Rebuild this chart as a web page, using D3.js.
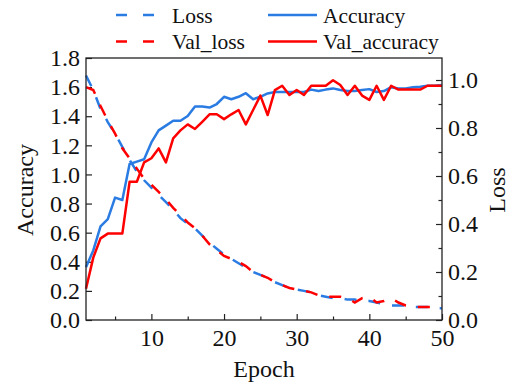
<!DOCTYPE html>
<html><head><meta charset="utf-8">
<script src="https://cdn.jsdelivr.net/npm/d3@7"></script>
<style>
body{margin:0;background:#fff;}
svg{display:block;font-family:"Liberation Serif","Times New Roman",serif;}
</style></head>
<body><svg id="c" width="512" height="386"></svg>
<script>
const epochs = d3.range(1, 51);
const loss = [1.68,1.58,1.45,1.36,1.28,1.19,1.10,1.02,0.96,0.91,0.86,0.81,0.76,0.70,0.66,0.63,0.58,0.53,0.49,0.45,0.42,0.39,0.36,0.33,0.31,0.29,0.26,0.24,0.22,0.21,0.20,0.19,0.17,0.16,0.15,0.15,0.14,0.14,0.13,0.13,0.12,0.11,0.10,0.10,0.10,0.09,0.09,0.09,0.08,0.08];
const valLoss = [1.60,1.58,1.47,1.37,1.28,1.18,1.11,1.04,0.97,0.93,0.88,0.83,0.77,0.72,0.67,0.63,0.58,0.52,0.48,0.44,0.42,0.40,0.37,0.33,0.31,0.29,0.26,0.24,0.22,0.21,0.20,0.19,0.17,0.16,0.16,0.16,0.15,0.12,0.15,0.16,0.12,0.13,0.15,0.12,0.10,0.09,0.09,0.09,0.09,0.10];
const accuracy = [0.22,0.29,0.39,0.42,0.51,0.50,0.65,0.66,0.67,0.74,0.79,0.81,0.83,0.83,0.85,0.89,0.89,0.885,0.90,0.93,0.92,0.93,0.945,0.92,0.93,0.944,0.95,0.95,0.95,0.95,0.95,0.96,0.954,0.96,0.965,0.958,0.954,0.954,0.958,0.962,0.95,0.954,0.97,0.965,0.965,0.97,0.972,0.976,0.976,0.979];
const valAccuracy = [0.13,0.26,0.34,0.36,0.36,0.36,0.576,0.576,0.657,0.674,0.715,0.657,0.757,0.79,0.815,0.796,0.826,0.857,0.857,0.837,0.857,0.875,0.815,0.875,0.935,0.854,0.958,0.976,0.9375,0.958,0.9375,0.976,0.976,0.976,0.999,0.979,0.9375,0.976,0.935,0.917,0.976,0.917,0.976,0.96,0.96,0.96,0.96,0.976,0.976,0.976];
const xTicks = [10,20,30,40,50];
const xMinorTicks = [5,15,25,35,45];
const leftTicks = [0,0.2,0.4,0.6,0.8,1.0,1.2,1.4,1.6,1.8];
const rightTicks = [0,0.2,0.4,0.6,0.8,1.0];
const rightMinorTicks = [0.1,0.3,0.5,0.7,0.9];

const BLUE = "#2a7be2", RED = "#ff0000";
const L = 86, R = 442, T = 58, B = 320;
const svg = d3.select("#c");
const x = d3.scaleLinear().domain([1,50]).range([L,R]);
const yL = d3.scaleLinear().domain([0,1.8]).range([B,T]);
const yR = d3.scaleLinear().domain([0,1.0917]).range([B,T]);

function styleAxis(g, fs){
  g.select(".domain").remove();
  g.selectAll("line").attr("stroke","#222").attr("stroke-width",1.2);
  g.selectAll("text").attr("fill","#111").style("font-size",fs+"px").style("font-family","Liberation Serif, serif");
}
const TF = 24;
svg.append("g").attr("transform",`translate(0,${B})`)
  .call(d3.axisBottom(x).tickValues(xTicks).tickFormat(d3.format("d")).tickSizeInner(-6).tickSizeOuter(0).tickPadding(9))
  .call(g=>styleAxis(g,TF));
svg.append("g").attr("transform",`translate(0,${B})`)
  .call(d3.axisBottom(x).tickValues(xMinorTicks).tickFormat("").tickSizeInner(-3.5).tickSizeOuter(0))
  .call(g=>styleAxis(g,TF));
svg.append("g").attr("transform",`translate(${L},0)`)
  .call(d3.axisLeft(yL).tickValues(leftTicks).tickFormat(d3.format(".1f")).tickSizeInner(-6).tickSizeOuter(0).tickPadding(6))
  .call(g=>styleAxis(g,TF));
svg.append("g").attr("transform",`translate(${R},0)`)
  .call(d3.axisRight(yR).tickValues(rightTicks).tickFormat(d3.format(".1f")).tickSizeInner(-6).tickSizeOuter(0).tickPadding(6))
  .call(g=>styleAxis(g,TF));
svg.append("g").attr("transform",`translate(${R},0)`)
  .call(d3.axisRight(yR).tickValues(rightMinorTicks).tickFormat("").tickSizeInner(-3.5).tickSizeOuter(0))
  .call(g=>styleAxis(g,TF));

const lineL = d3.line().x((d,i)=>x(epochs[i])).y(d=>yL(d));
const lineR = d3.line().x((d,i)=>x(epochs[i])).y(d=>yR(d));
const plot = svg.append("g");
plot.append("path").datum(loss).attr("d",lineL).attr("fill","none").attr("stroke",BLUE).attr("stroke-width",2.5).attr("stroke-dasharray","12,12");
plot.append("path").datum(valLoss).attr("d",lineL).attr("fill","none").attr("stroke",RED).attr("stroke-width",2.5).attr("stroke-dasharray","12,12");
plot.append("path").datum(accuracy).attr("d",lineR).attr("fill","none").attr("stroke",BLUE).attr("stroke-width",2.5).attr("stroke-linejoin","round");
plot.append("path").datum(valAccuracy).attr("d",lineR).attr("fill","none").attr("stroke",RED).attr("stroke-width",2.5).attr("stroke-linejoin","round");

svg.append("rect").attr("x",L).attr("y",T).attr("width",R-L).attr("height",B-T).attr("fill","none").attr("stroke","#222").attr("stroke-width",1.3);

svg.append("text").attr("x",(L+R)/2-0).attr("y",377).attr("text-anchor","middle").style("font-size","24px").attr("fill","#111").text("Epoch");
svg.append("text").attr("transform","translate(33,190) rotate(-90)").attr("text-anchor","middle").style("font-size","24px").attr("fill","#111").text("Accuracy");
svg.append("text").attr("transform","translate(505,190) rotate(-90)").attr("text-anchor","middle").style("font-size","24px").attr("fill","#111").text("Loss");

const legendItems = [
  {label:"Loss", color:BLUE, dash:true, x0:116, x1:158, tx:172, y:15},
  {label:"Val_loss", color:RED, dash:true, x0:116, x1:158, tx:172, y:41.5},
  {label:"Accuracy", color:BLUE, dash:false, x0:268, x1:317, tx:323, y:15},
  {label:"Val_accuracy", color:RED, dash:false, x0:268, x1:317, tx:323, y:41.5}
];
const lg = svg.append("g");
legendItems.forEach(d=>{
  const ln = lg.append("line").attr("x1",d.x0).attr("x2",d.x1).attr("y1",d.y).attr("y2",d.y).attr("stroke",d.color).attr("stroke-width",2.5);
  if(d.dash) ln.attr("stroke-dasharray","11,16");
  lg.append("text").attr("x",d.tx).attr("y",d.y).attr("dy","0.35em").style("font-size","21.5px").attr("fill","#111").text(d.label);
});
</script></body></html>
